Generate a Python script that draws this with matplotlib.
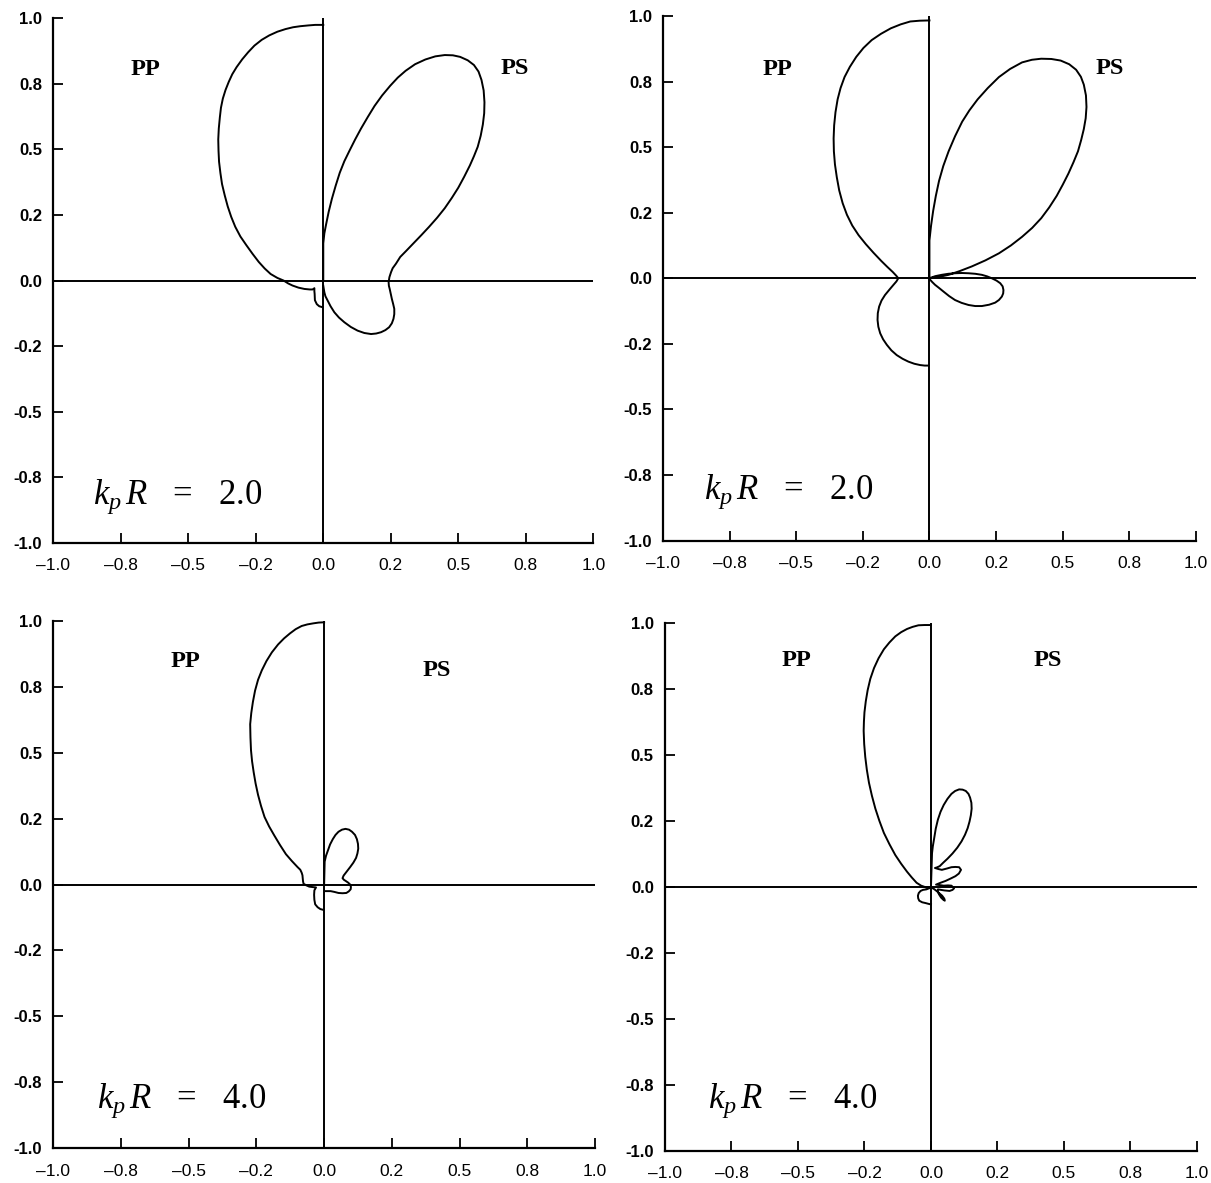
import matplotlib
matplotlib.use("Agg")
import matplotlib.pyplot as plt

plt.rcParams['mathtext.fontset'] = 'custom'
plt.rcParams['mathtext.rm'] = 'Liberation Serif'
plt.rcParams['mathtext.it'] = 'Liberation Serif:italic'

# ---------------- data ----------------
tick_pos = [-1.0, -0.75, -0.5, -0.25, 0.0, 0.25, 0.5, 0.75, 1.0]
y_tick_labels = ["-1.0", "-0.8", "-0.5", "-0.2", "0.0", "0.2", "0.5", "0.8", "1.0"]
x_tick_labels = ["\u20131.0", "\u20130.8", "\u20130.5", "\u20130.2", "0.0", "0.2", "0.5", "0.8", "1.0"]

# Panel 1 (kpR = 2.0, left)
pp1_x = [0.0, -0.030, -0.055, -0.085, -0.112, -0.140, -0.170, -0.200, -0.228, -0.255, -0.278,
         -0.300, -0.321, -0.337, -0.350, -0.362, -0.372, -0.379, -0.383, -0.387, -0.389,
         -0.388, -0.386, -0.381, -0.375, -0.365, -0.354, -0.341, -0.326, -0.307, -0.285,
         -0.262, -0.239, -0.217, -0.195, -0.170, -0.147, -0.130, -0.114, -0.092, -0.070,
         -0.050, -0.040, -0.035, -0.033, -0.033, -0.032, -0.031, -0.024, -0.015, -0.002]
pp1_y = [0.975, 0.975, 0.973, 0.970, 0.966, 0.959, 0.949, 0.935, 0.918, 0.896, 0.871,
         0.844, 0.814, 0.787, 0.758, 0.727, 0.694, 0.659, 0.623, 0.580, 0.538,
         0.495, 0.453, 0.410, 0.368, 0.325, 0.283, 0.243, 0.205, 0.168, 0.135,
         0.102, 0.071, 0.046, 0.025, 0.010, 0.0, -0.011, -0.019, -0.027, -0.032,
         -0.034, -0.034, -0.031, -0.029, -0.040, -0.051, -0.075, -0.090, -0.098, -0.102]
ps1_x = [0.0, 0.0, 0.004, 0.010, 0.020, 0.032, 0.046, 0.061, 0.078, 0.097, 0.118, 0.140,
         0.165, 0.190, 0.218, 0.248, 0.276, 0.305, 0.340, 0.378, 0.415, 0.450, 0.480,
         0.507, 0.535, 0.558, 0.575, 0.586, 0.594, 0.597, 0.596, 0.591, 0.583, 0.572,
         0.558, 0.543, 0.522, 0.500, 0.476, 0.450, 0.422, 0.392, 0.363, 0.334, 0.306,
         0.285, 0.269, 0.257, 0.251, 0.245, 0.242, 0.243, 0.246, 0.250, 0.254, 0.259,
         0.263, 0.263, 0.260, 0.254, 0.244, 0.230, 0.214, 0.196, 0.177, 0.152, 0.127,
         0.102, 0.078, 0.058, 0.041, 0.027, 0.016, 0.008, 0.004, 0.0]
ps1_y = [0.0, 0.142, 0.180, 0.212, 0.262, 0.312, 0.362, 0.411, 0.455, 0.495, 0.538, 0.580,
         0.624, 0.666, 0.706, 0.743, 0.774, 0.800, 0.825, 0.843, 0.855, 0.860, 0.859,
         0.853, 0.840, 0.822, 0.797, 0.765, 0.725, 0.680, 0.638, 0.595, 0.552, 0.510,
         0.474, 0.439, 0.396, 0.354, 0.315, 0.276, 0.240, 0.205, 0.173, 0.142, 0.112,
         0.090, 0.064, 0.047, 0.032, 0.013, -0.006, -0.020, -0.032, -0.051, -0.070, -0.090,
         -0.108, -0.128, -0.146, -0.163, -0.178, -0.189, -0.197, -0.202, -0.204, -0.200, -0.191,
         -0.177, -0.159, -0.141, -0.121, -0.098, -0.076, -0.060, -0.045, -0.020]

# Panel 2 (kpR = 2.0, right)
pp2_x = [0.0, -0.036, -0.072, -0.108, -0.145, -0.182, -0.217, -0.248, -0.275, -0.299,
         -0.319, -0.334, -0.345, -0.353, -0.358, -0.360, -0.359, -0.355, -0.348, -0.339,
         -0.326, -0.310, -0.290, -0.266, -0.239, -0.210, -0.181, -0.158, -0.138, -0.125,
         -0.117, -0.124, -0.135, -0.150, -0.167, -0.180, -0.189, -0.194, -0.195, -0.192,
         -0.185, -0.174, -0.160, -0.143, -0.123, -0.101, -0.079, -0.057, -0.035, -0.018,
         -0.004]
pp2_y = [0.983, 0.982, 0.979, 0.968, 0.953, 0.932, 0.908, 0.878, 0.844, 0.806,
         0.767, 0.725, 0.682, 0.633, 0.583, 0.533, 0.484, 0.434, 0.385, 0.335,
         0.286, 0.242, 0.201, 0.164, 0.130, 0.097, 0.066, 0.043, 0.024, 0.010,
         0.0, -0.012, -0.025, -0.043, -0.064, -0.085, -0.108, -0.133, -0.159, -0.185,
         -0.210, -0.233, -0.254, -0.275, -0.293, -0.307, -0.318, -0.326, -0.331, -0.333,
         -0.333]
ps2_x = [0.0, 0.0, 0.006, 0.014, 0.024, 0.036, 0.052, 0.072, 0.096, 0.123, 0.150, 0.181,
         0.219, 0.261, 0.303, 0.348, 0.385, 0.420, 0.458, 0.493, 0.525, 0.551, 0.569,
         0.580, 0.588, 0.590, 0.587, 0.580, 0.570, 0.558, 0.541, 0.522, 0.501, 0.478,
         0.450, 0.420, 0.386, 0.348, 0.306, 0.261, 0.210, 0.159, 0.113, 0.072, 0.040,
         0.014, 0.0, 0.022, 0.046, 0.071, 0.096, 0.122, 0.147, 0.172, 0.197, 0.217,
         0.234, 0.252, 0.266, 0.275, 0.278, 0.277, 0.272, 0.261, 0.247, 0.224, 0.197,
         0.172, 0.147, 0.121, 0.096, 0.074, 0.053, 0.036, 0.021, 0.010, 0.003, 0.0]
ps2_y = [0.0, 0.144, 0.200, 0.257, 0.314, 0.371, 0.428, 0.484, 0.541, 0.597, 0.640, 0.682,
         0.725, 0.767, 0.798, 0.823, 0.833, 0.837, 0.836, 0.830, 0.816, 0.795, 0.768,
         0.738, 0.697, 0.653, 0.610, 0.569, 0.527, 0.484, 0.442, 0.399, 0.357, 0.314,
         0.270, 0.229, 0.192, 0.158, 0.125, 0.095, 0.068, 0.045, 0.027, 0.013, 0.006,
         0.002, 0.0, 0.008, 0.013, 0.017, 0.019, 0.020, 0.019, 0.017, 0.013, 0.007,
         0.0, -0.009, -0.019, -0.031, -0.045, -0.058, -0.070, -0.083, -0.093, -0.101, -0.106,
         -0.106, -0.102, -0.094, -0.083, -0.068, -0.051, -0.037, -0.025, -0.014, -0.006, 0.0]

# Panel 3 (kpR = 4.0, left)
pp3_x = [0.0, -0.020, -0.040, -0.062, -0.083, -0.105, -0.126, -0.148, -0.170, -0.193,
         -0.213, -0.230, -0.244, -0.255, -0.263, -0.269, -0.273, -0.272, -0.270, -0.266,
         -0.260, -0.253, -0.244, -0.233, -0.220, -0.203, -0.184, -0.163, -0.141, -0.119,
         -0.098, -0.088, -0.083, -0.080, -0.079, -0.078, -0.076, -0.066, -0.055, -0.040,
         -0.030, -0.036, -0.037, -0.036, -0.033, -0.024, -0.014, -0.003]
pp3_y = [0.994, 0.993, 0.990, 0.986, 0.980, 0.968, 0.952, 0.933, 0.910, 0.880,
         0.847, 0.812, 0.776, 0.735, 0.692, 0.650, 0.608, 0.558, 0.509, 0.467,
         0.425, 0.383, 0.340, 0.298, 0.256, 0.220, 0.186, 0.150, 0.115, 0.089,
         0.066, 0.056, 0.045, 0.035, 0.024, 0.013, 0.003, -0.003, -0.008, -0.010,
         -0.011, -0.022, -0.039, -0.058, -0.075, -0.086, -0.093, -0.096]
ps3_x = [0.0, 0.002, 0.007, 0.014, 0.022, 0.032, 0.042, 0.053, 0.066, 0.079, 0.092, 0.103,
         0.114, 0.121, 0.125, 0.126, 0.123, 0.118, 0.108, 0.096, 0.084, 0.072, 0.068,
         0.073, 0.079, 0.089, 0.096, 0.099, 0.098, 0.091, 0.082, 0.068, 0.053, 0.038,
         0.024, 0.012, 0.003]
ps3_y = [0.0, 0.087, 0.109, 0.129, 0.152, 0.172, 0.188, 0.200, 0.208, 0.211, 0.208, 0.200,
         0.188, 0.172, 0.154, 0.136, 0.118, 0.101, 0.083, 0.066, 0.050, 0.034, 0.024,
         0.018, 0.014, 0.007, 0.0, -0.009, -0.018, -0.026, -0.032, -0.033, -0.032, -0.028,
         -0.025, -0.025, -0.025]

# Panel 4 (kpR = 4.0, right)
pp4_x = [0.0, -0.024, -0.047, -0.069, -0.090, -0.112, -0.134, -0.156, -0.177, -0.197,
         -0.214, -0.228, -0.238, -0.245, -0.250, -0.252, -0.253, -0.251, -0.247, -0.241,
         -0.233, -0.222, -0.209, -0.194, -0.177, -0.156, -0.134, -0.112, -0.090, -0.072,
         -0.054, -0.037, -0.020, 0.0, -0.017, -0.030, -0.039, -0.046, -0.049, -0.048,
         -0.044, -0.033, -0.020, -0.009, 0.0]
pp4_y = [0.994, 0.994, 0.993, 0.987, 0.979, 0.967, 0.951, 0.928, 0.902, 0.868,
         0.831, 0.790, 0.747, 0.705, 0.663, 0.628, 0.593, 0.543, 0.494, 0.445,
         0.396, 0.347, 0.298, 0.252, 0.206, 0.163, 0.122, 0.089, 0.059, 0.037,
         0.017, 0.006, 0.0, -0.001, -0.008, -0.010, -0.014, -0.022, -0.032, -0.042,
         -0.051, -0.057, -0.060, -0.063, -0.065]
ps4_x = [0.0, 0.004, 0.007, 0.012, 0.018, 0.026, 0.036, 0.048, 0.062, 0.077, 0.091, 0.106,
         0.119, 0.131, 0.141, 0.147, 0.152, 0.153, 0.150, 0.145, 0.138, 0.128, 0.115,
         0.099, 0.081, 0.062, 0.046, 0.033, 0.022, 0.015, 0.028, 0.041, 0.060, 0.077,
         0.092, 0.106, 0.113, 0.105, 0.092, 0.074, 0.055, 0.036, 0.019, 0.034, 0.048,
         0.064, 0.077, 0.087, 0.081, 0.070, 0.050, 0.026, 0.026, 0.031, 0.038, 0.046,
         0.052, 0.050, 0.042, 0.026, 0.012, 0.0]
ps4_y = [0.0, 0.129, 0.155, 0.185, 0.222, 0.256, 0.286, 0.312, 0.335, 0.354, 0.365, 0.371,
         0.370, 0.365, 0.354, 0.340, 0.320, 0.298, 0.273, 0.249, 0.224, 0.199, 0.174,
         0.150, 0.128, 0.108, 0.093, 0.080, 0.075, 0.073, 0.069, 0.066, 0.071, 0.076,
         0.077, 0.076, 0.066, 0.052, 0.042, 0.033, 0.024, 0.017, 0.010, 0.008, 0.006,
         0.007, 0.006, -0.004, -0.010, -0.014, -0.012, -0.008, -0.018, -0.028, -0.039, -0.047,
         -0.051, -0.043, -0.032, -0.018, -0.007, 0.0]

panels = [
    dict(rect=[0.0440, 0.5412, 0.4459, 0.4433], pp=(pp1_x, pp1_y), ps=(ps1_x, ps1_y),
         pp_lab=(-0.66, 0.806), ps_lab=(0.709, 0.807), k_lab=(-0.853, -0.853), kval="2.0"),
    dict(rect=[0.5477, 0.5431, 0.4396, 0.4434], pp=(pp2_x, pp2_y), ps=(ps2_x, ps2_y),
         pp_lab=(-0.572, 0.795), ps_lab=(0.678, 0.798), k_lab=(-0.846, -0.84), kval="2.0"),
    dict(rect=[0.0440, 0.0293, 0.4473, 0.4460], pp=(pp3_x, pp3_y), ps=(ps3_x, ps3_y),
         pp_lab=(-0.514, 0.847), ps_lab=(0.417, 0.812), k_lab=(-0.84, -0.848), kval="4.0"),
    dict(rect=[0.5491, 0.0270, 0.4393, 0.4460], pp=(pp4_x, pp4_y), ps=(ps4_x, ps4_y),
         pp_lab=(-0.504, 0.86), ps_lab=(0.44, 0.86), k_lab=(-0.838, -0.836), kval="4.0"),
]

fig = plt.figure(figsize=(12.11, 11.83), dpi=100)
LW = 1.4
for p in panels:
    ax = fig.add_axes(p["rect"])
    ax.set_xlim(-1, 1)
    ax.set_ylim(-1, 1)
    for s in ("top", "right"):
        ax.spines[s].set_visible(False)
    for s in ("left", "bottom"):
        ax.spines[s].set_linewidth(1.6)
    ax.set_xticks(tick_pos)
    ax.set_yticks(tick_pos)
    ax.set_xticklabels(x_tick_labels, fontfamily="Liberation Sans", fontsize=12.5)
    ax.set_yticklabels(y_tick_labels, fontfamily="Liberation Sans", fontsize=12,
                       fontweight="bold")
    ax.tick_params(axis="x", direction="in", length=7, width=1.3, pad=11)
    ax.tick_params(axis="y", direction="in", length=7, width=1.3, pad=8)
    # reference lines through origin
    ax.plot([-1, 1], [0, 0], color="black", lw=LW, solid_joinstyle="round")
    ax.plot([0, 0], [-1, 1], color="black", lw=LW, solid_joinstyle="round")
    # lobes
    ax.plot(p["pp"][0], p["pp"][1], color="black", lw=LW, solid_joinstyle="round")
    ax.plot(p["ps"][0], p["ps"][1], color="black", lw=LW, solid_joinstyle="round")
    ax.text(*p["pp_lab"], "PP", fontfamily="Liberation Serif", fontweight="bold",
            fontsize=17.5, ha="center", va="center")
    ax.text(*p["ps_lab"], "PS", fontfamily="Liberation Serif", fontweight="bold",
            fontsize=17.5, ha="center", va="center")
    ax.text(*p["k_lab"], r"$k_p\,R$" + "   =   " + p["kval"],
            fontfamily="Liberation Serif", fontsize=25, ha="left", va="baseline")

fig.savefig("out.png", dpi=100)
